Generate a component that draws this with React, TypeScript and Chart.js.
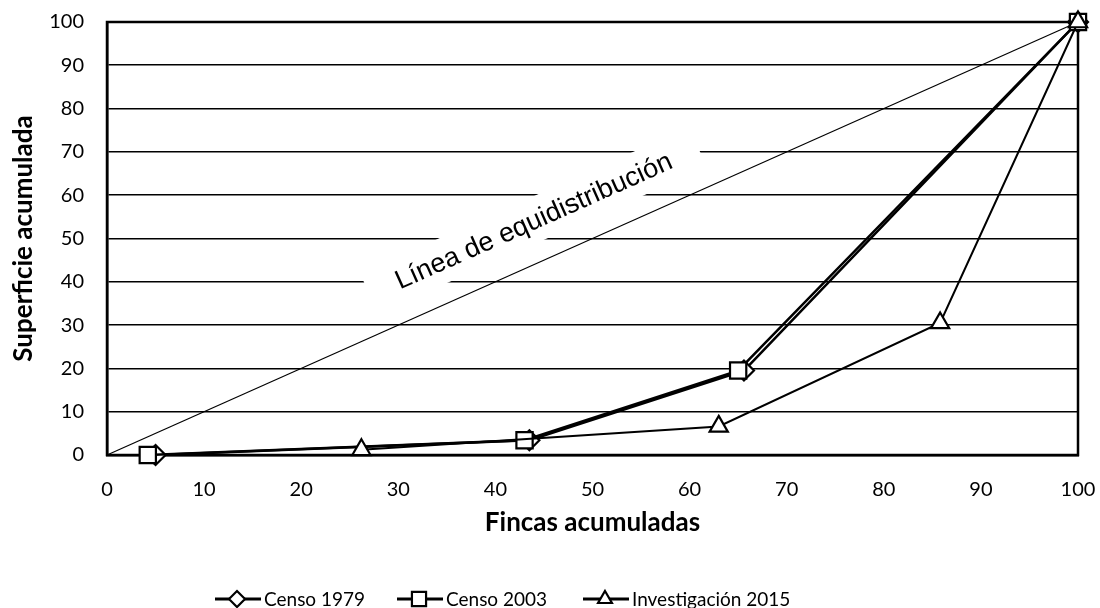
import React, { useEffect, useRef } from 'react';
import { Chart, registerables } from 'chart.js';
import { drawPoint } from 'chart.js/helpers';

Chart.register(...registerables);

// ---- data ----
const seriesLabels = ['Censo 1979', 'Censo 2003', 'Investigación 2015'];
const censo1979X = [5.0, 43.5, 65.6, 100];
const censo1979Y = [0, 3.4, 19.5, 100];
const censo2003X = [4.2, 43.0, 65.0, 100];
const censo2003Y = [0, 3.4, 19.5, 100];
const inv2015X = [26.2, 63.0, 85.8, 100];
const inv2015Y = [1.2, 6.6, 30.5, 100];
const equiX = [0, 100];
const equiY = [0, 100];
const xTickValues = [0, 10, 20, 30, 40, 50, 60, 70, 80, 90, 100];
const yTickValues = [0, 10, 20, 30, 40, 50, 60, 70, 80, 90, 100];
const xTitle = 'Fincas acumuladas';
const yTitle = 'Superficie acumulada';
const equiLabel = 'Línea de equidistribución';
const equiLabelAnchor = { x: 44.3, y: 52.3 }; // data coordinates of label baseline centre

const toPoints = (xs: number[], ys: number[]) => xs.map((x, i) => ({ x, y: ys[i] }));

const annotationPlugin = {
  id: 'annotationFrame',
  beforeDatasetsDraw(chart: any) {
    const { ctx, chartArea: a, scales } = chart;
    const px = scales.x.getPixelForValue(equiLabelAnchor.x);
    const py = scales.y.getPixelForValue(equiLabelAnchor.y);
    ctx.save();
    ctx.translate(px, py);
    ctx.rotate((-24 * Math.PI) / 180);
    ctx.fillStyle = '#fff';
    ctx.fillRect(-180, -31, 360, 44);
    ctx.fillStyle = '#000';
    ctx.font = '27px "Liberation Sans", Arial, sans-serif';
    ctx.textAlign = 'center';
    ctx.textBaseline = 'alphabetic';
    ctx.fillText(equiLabel, 0, 0);
    ctx.restore();

    ctx.save();
    ctx.strokeStyle = '#000';
    ctx.lineWidth = 2.5;
    ctx.strokeRect(a.left, a.top, a.right - a.left, a.bottom - a.top);
    ctx.restore();
  },
};

const legendStyles = ['rectRot', 'rect', 'triangle'];
const legendStarts = [215, 397, 583];

const customLegendPlugin = {
  id: 'customLegend',
  afterDraw(chart: any) {
    const ctx = chart.ctx;
    const y = 599;
    ctx.save();
    ctx.font = '19px Lato, sans-serif';
    seriesLabels.forEach((label, i) => {
      const x = legendStarts[i];
      ctx.strokeStyle = '#000';
      ctx.lineWidth = 2.8;
      ctx.beginPath();
      ctx.moveTo(x, y);
      ctx.lineTo(x + 46, y);
      ctx.stroke();
      ctx.fillStyle = '#fff';
      ctx.strokeStyle = '#000';
      ctx.lineWidth = 2.2;
      drawPoint(ctx, { pointStyle: legendStyles[i], radius: legendStyles[i] === 'rect' ? 10 : 8, borderWidth: 2.2, rotation: 0 } as any, x + 22, y);
      ctx.fillStyle = '#000';
      ctx.textAlign = 'left';
      ctx.textBaseline = 'alphabetic';
      ctx.fillText(label, x + 49, y + 7);
    });
    ctx.restore();
  },
};

export default function App() {
  const ref = useRef<HTMLCanvasElement | null>(null);

  useEffect(() => {
    if (!ref.current) return;
    const tickFont = { family: 'Lato', size: 20 };
    const titleFont = { family: 'Lato', size: 26, weight: 'bold' as const };
    const chart = new Chart(ref.current, {
      type: 'scatter',
      data: {
        datasets: [
          {
            label: seriesLabels[2],
            data: toPoints(inv2015X, inv2015Y),
            showLine: true,
            borderColor: '#000',
            backgroundColor: '#fff',
            borderWidth: 2,
            pointStyle: 'triangle',
            pointRadius: 10.5,
            pointBorderWidth: 2.2,
            pointBackgroundColor: '#fff',
            pointBorderColor: '#000',
            order: 0,
            clip: false as any,
          },
          {
            label: seriesLabels[1],
            data: toPoints(censo2003X, censo2003Y),
            showLine: true,
            borderColor: '#000',
            backgroundColor: '#fff',
            borderWidth: 2.5,
            pointStyle: 'rect',
            pointRadius: 11.5,
            pointBorderWidth: 2.2,
            pointBackgroundColor: '#fff',
            pointBorderColor: '#000',
            order: 1,
            clip: false as any,
          },
          {
            label: seriesLabels[0],
            data: toPoints(censo1979X, censo1979Y),
            showLine: true,
            borderColor: '#000',
            backgroundColor: '#fff',
            borderWidth: 2.5,
            pointStyle: 'rectRot',
            pointRadius: 10,
            pointBorderWidth: 2.2,
            pointBackgroundColor: '#fff',
            pointBorderColor: '#000',
            order: 2,
            clip: false as any,
          },
          {
            label: 'equi',
            data: toPoints(equiX, equiY),
            showLine: true,
            borderColor: '#000',
            borderWidth: 1.2,
            pointRadius: 0,
            order: 3,
            clip: false as any,
          },
        ],
      },
      options: {
        animation: false,
        responsive: false,
        maintainAspectRatio: false,
        layout: { padding: { top: 22, right: 22, left: 0, bottom: 0 } },
        plugins: { legend: { display: false }, tooltip: { enabled: false } },
        scales: {
          x: {
            type: 'linear',
            min: 0,
            max: 100,
            afterBuildTicks: (s: any) => {
              s.ticks = xTickValues.map((v) => ({ value: v }));
            },
            ticks: { font: tickFont, color: '#000', padding: 23, maxRotation: 0, autoSkip: false },
            grid: { display: false, drawTicks: false },
            border: { display: true, color: '#000', width: 2.5 },
            title: {
              display: true,
              text: xTitle,
              color: '#000',
              font: titleFont,
              padding: { top: 0, bottom: 70 },
            },
            afterFit: (s: any) => {
              s.height = 153;
              s.paddingLeft = 0;
              s.paddingRight = 0;
            },
          },
          y: {
            type: 'linear',
            min: 0,
            max: 100,
            afterBuildTicks: (s: any) => {
              s.ticks = yTickValues.map((v) => ({ value: v }));
            },
            ticks: { font: tickFont, color: '#000', padding: 23, autoSkip: false },
            grid: { display: true, drawTicks: false, color: '#000', lineWidth: 1.6 },
            border: { display: true, color: '#000', width: 2.5 },
            title: {
              display: true,
              text: yTitle,
              color: '#000',
              font: titleFont,
              padding: { top: 8, bottom: 0 },
            },
            afterFit: (s: any) => {
              s.width = 107;
              s.paddingTop = 0;
              s.paddingBottom = 0;
            },
          },
        },
      },
      plugins: [annotationPlugin, customLegendPlugin],
    } as any);
    return () => chart.destroy();
  }, []);

  return (
    <div style={{ position: 'fixed', left: 0, top: 0, width: 1100, height: 608, background: '#fff' }}>
      <canvas ref={ref} width={1100} height={608} style={{ display: 'block', width: 1100, height: 608 }} />
    </div>
  );
}
